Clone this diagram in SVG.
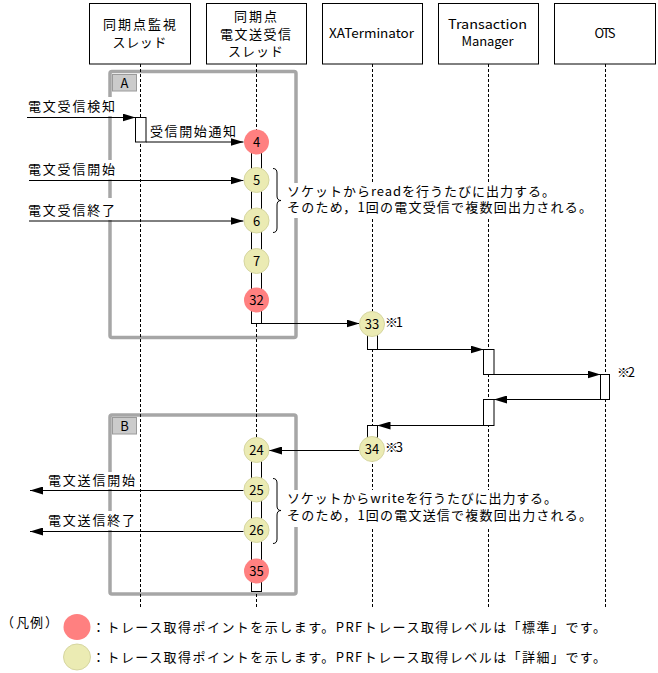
<svg xmlns="http://www.w3.org/2000/svg" width="658" height="673" viewBox="0 0 658 673">
<style>
text{font-family:"Noto Sans CJK JP","Noto Sans CJK SC",sans-serif;font-size:13px;fill:#000}
.m{text-anchor:middle}
.box{fill:#fff;stroke:#000;stroke-width:1}
.life{stroke:#000;stroke-width:1;stroke-dasharray:3,2;fill:none}
.frame{fill:none;stroke:#a6a6a6;stroke-width:3.5}
.flab{fill:#cbcbcb;stroke:#9a9a9a;stroke-width:1}
.bg{fill:#fff}
.act{fill:#fff;stroke:#000;stroke-width:1}
.msg{stroke:#000;stroke-width:1;fill:none;marker-end:url(#ah)}
.red{fill:#ff8080}
.yel{fill:#ebebb3;stroke:#d6d6a0;stroke-width:1}
.brace{fill:none;stroke:#000;stroke-width:1}
</style>
<defs>
<marker id="ah" viewBox="0 0 13 8" refX="13" refY="4" markerWidth="13" markerHeight="8" markerUnits="userSpaceOnUse" orient="auto">
<path d="M0,0 L13,4 L0,8 z" fill="#000"/>
</marker>
</defs>

<g id="frames">
<rect class="frame" x="110" y="71.5" width="186" height="266" rx="2"/>
<rect class="flab" x="112.5" y="74.5" width="24" height="16.5"/>
<text class="m" x="124.5" y="88">A</text>
<rect class="frame" x="110" y="415" width="186" height="179" rx="2"/>
<rect class="flab" x="112.5" y="417.5" width="24" height="16.5"/>
<text class="m" x="124.5" y="431">B</text>
</g>

<g id="lifelines">
<line class="life" x1="140.5" y1="64" x2="140.5" y2="607"/>
<line class="life" x1="256.5" y1="64" x2="256.5" y2="607"/>
<line class="life" x1="372.5" y1="64" x2="372.5" y2="607"/>
<line class="life" x1="488.5" y1="64" x2="488.5" y2="607"/>
<line class="life" x1="605.5" y1="64" x2="605.5" y2="607"/>
</g>

<g id="label-backgrounds">
<rect class="bg" x="24" y="97" width="96" height="19"/>
<rect class="bg" x="24" y="160" width="96" height="19.5"/>
<rect class="bg" x="24" y="198" width="96" height="22"/>
<rect class="bg" x="44" y="472" width="96" height="17"/>
<rect class="bg" x="44" y="511" width="96" height="19"/>
<rect class="bg" x="284" y="183" width="312" height="35"/>
<rect class="bg" x="284" y="490" width="312" height="37"/>
</g>

<g id="header-1">
<rect class="box" x="89.5" y="3.5" width="101" height="60.5"/>
<text class="m" x="139.5" y="29" textLength="73" lengthAdjust="spacing">同期点監視</text>
<text class="m" x="139.5" y="46.5" textLength="54" lengthAdjust="spacing">スレッド</text>
</g>
<g id="header-2">
<rect class="box" x="206.5" y="3.5" width="100" height="60.5"/>
<text class="m" x="255.5" y="21" textLength="43" lengthAdjust="spacing">同期点</text>
<text class="m" x="255.5" y="38.5" textLength="71" lengthAdjust="spacing">電文送受信</text>
<text class="m" x="255.5" y="56" textLength="55" lengthAdjust="spacing">スレッド</text>
</g>
<g id="header-3">
<rect class="box" x="322.5" y="3.5" width="100" height="60.5"/>
<text class="m" x="371.5" y="38" textLength="85" lengthAdjust="spacingAndGlyphs">XATerminator</text>
</g>
<g id="header-4">
<rect class="box" x="438.5" y="3.5" width="100" height="60.5"/>
<text class="m" x="487.5" y="29" textLength="79" lengthAdjust="spacingAndGlyphs">Transaction</text>
<text class="m" x="487.5" y="46" textLength="52" lengthAdjust="spacing">Manager</text>
</g>
<g id="header-5">
<rect class="box" x="554.5" y="3.5" width="101" height="60.5"/>
<text class="m" x="605" y="38" textLength="21" lengthAdjust="spacing">OTS</text>
</g>

<g id="connectors">
<line class="msg" x1="27" y1="117.5" x2="135.5" y2="117.5"/>
<line class="msg" x1="146" y1="142" x2="243.5" y2="142"/>
<line class="msg" x1="29" y1="180.5" x2="243.5" y2="180.5"/>
<line class="msg" x1="29" y1="221" x2="243.5" y2="221"/>
<line class="msg" x1="261.5" y1="323.5" x2="359.5" y2="323.5"/>
<line class="msg" x1="377.5" y1="349.5" x2="483.5" y2="349.5"/>
<line class="msg" x1="494" y1="374.5" x2="600.5" y2="374.5"/>
<line class="msg" x1="600.5" y1="399.5" x2="494" y2="399.5"/>
<line class="msg" x1="483.5" y1="425.5" x2="377.5" y2="425.5"/>
<line class="msg" x1="359.5" y1="450.5" x2="269" y2="450.5"/>
<line class="msg" x1="243.5" y1="490.5" x2="30" y2="490.5"/>
<line class="msg" x1="243.5" y1="531.5" x2="30" y2="531.5"/>
<path class="brace" d="M273,168.5 Q277,168.5 277,173 L277,196 Q277,200.5 281,200.5 Q277,200.5 277,205 L277,228 Q277,232.5 273,232.5"/>
<path class="brace" d="M273,478.5 Q277,478.5 277,483 L277,506 Q277,510.5 281,510.5 Q277,510.5 277,515 L277,539 Q277,543.5 273,543.5"/>
</g>

<g id="activations">
<rect class="act" x="135.5" y="117.5" width="10.5" height="24.5"/>
<rect class="act" x="251.5" y="142" width="10" height="181.5"/>
<rect class="act" x="367.5" y="324" width="10" height="25.5"/>
<rect class="act" x="483.5" y="349.5" width="10.5" height="25"/>
<rect class="act" x="600.5" y="374.5" width="9" height="25"/>
<rect class="act" x="483.5" y="399.5" width="10.5" height="26"/>
<rect class="act" x="367.5" y="425.5" width="10" height="12"/>
<rect class="act" x="251.5" y="450" width="10" height="141.5"/>
</g>

<g id="labels">
<text x="28" y="111" textLength="87" lengthAdjust="spacing">電文受信検知</text>
<text x="150" y="136" textLength="86" lengthAdjust="spacing">受信開始通知</text>
<text x="28" y="174" textLength="87" lengthAdjust="spacing">電文受信開始</text>
<text x="28" y="215" textLength="87" lengthAdjust="spacing">電文受信終了</text>
<text x="48" y="485" textLength="87" lengthAdjust="spacing">電文送信開始</text>
<text x="48" y="525" textLength="87" lengthAdjust="spacing">電文送信終了</text>
<text x="287" y="195.5" textLength="268" lengthAdjust="spacing">ソケットからreadを行うたびに出力する。</text>
<text x="287" y="212" textLength="305" lengthAdjust="spacing">そのため，1回の電文受信で複数回出力される。</text>
<text x="287" y="503" textLength="270" lengthAdjust="spacing">ソケットからwriteを行うたびに出力する。</text>
<text x="287" y="520" textLength="305" lengthAdjust="spacing">そのため，1回の電文送信で複数回出力される。</text>
<text x="385" y="327" textLength="18" lengthAdjust="spacing">※1</text>
<text x="617" y="377" textLength="18" lengthAdjust="spacing">※2</text>
<text x="385" y="452" textLength="18" lengthAdjust="spacing">※3</text>
</g>

<g id="p4"><circle class="red" cx="256.5" cy="142" r="12.5"/><text class="m" x="256.5" y="147">4</text></g>
<g id="p5"><circle class="yel" cx="256.5" cy="180" r="12.5"/><text class="m" x="256.5" y="185">5</text></g>
<g id="p6"><circle class="yel" cx="256.5" cy="220.5" r="12.5"/><text class="m" x="256.5" y="225.5">6</text></g>
<g id="p7"><circle class="yel" cx="256.5" cy="261" r="12.5"/><text class="m" x="256.5" y="266">7</text></g>
<g id="p32"><circle class="red" cx="256.5" cy="300" r="12.5"/><text class="m" x="256.5" y="305">32</text></g>
<g id="p33"><circle class="yel" cx="372" cy="324" r="12.5"/><text class="m" x="372" y="329">33</text></g>
<g id="p34"><circle class="yel" cx="372" cy="449" r="12.5"/><text class="m" x="372" y="454">34</text></g>
<g id="p24"><circle class="yel" cx="256.5" cy="450" r="12.5"/><text class="m" x="256.5" y="455">24</text></g>
<g id="p25"><circle class="yel" cx="256.5" cy="489.5" r="12.5"/><text class="m" x="256.5" y="494.5">25</text></g>
<g id="p26"><circle class="yel" cx="256.5" cy="530" r="12.5"/><text class="m" x="256.5" y="535">26</text></g>
<g id="p35"><circle class="red" cx="256.5" cy="571" r="12.5"/><text class="m" x="256.5" y="576">35</text></g>

<g id="legend">
<text x="1 16 30 45" y="627">（凡例）</text>
<ellipse class="red" cx="77" cy="627" rx="13.5" ry="13"/>
<text x="92" y="632" textLength="514" lengthAdjust="spacing">：トレース取得ポイントを示します。PRFトレース取得レベルは「標準」です。</text>
<ellipse class="yel" cx="77" cy="657" rx="13.5" ry="13"/>
<text x="92" y="662" textLength="514" lengthAdjust="spacing">：トレース取得ポイントを示します。PRFトレース取得レベルは「詳細」です。</text>
</g>
</svg>
